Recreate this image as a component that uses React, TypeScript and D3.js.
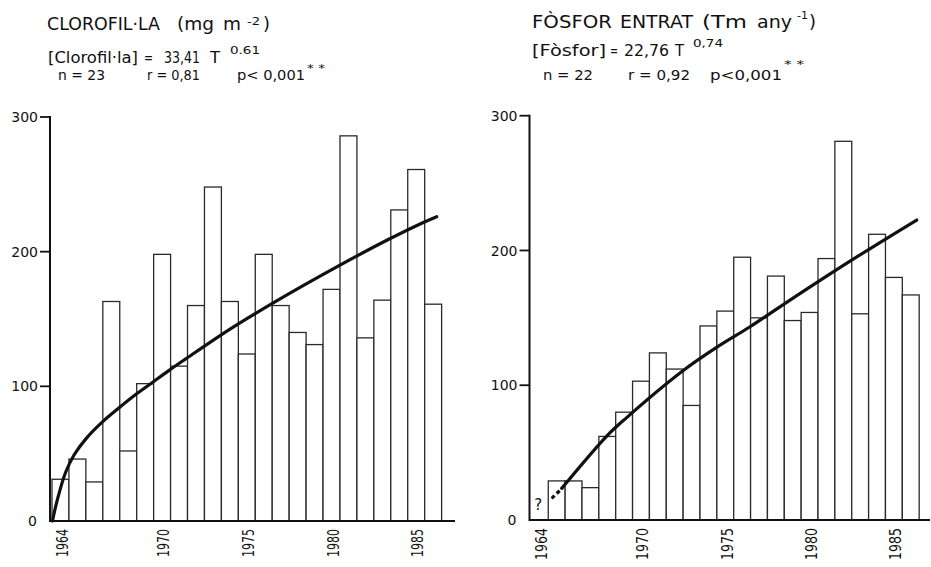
import React from "react";
import * as d3 from "d3";

// ---------- DATA ----------
const clorYears = [1964, 1965, 1966, 1967, 1968, 1969, 1970, 1971, 1972, 1973, 1974, 1975, 1976, 1977, 1978, 1979, 1980, 1981, 1982, 1983, 1984, 1985, 1986];
const clorValues = [31, 46, 29, 163, 52, 102, 198, 115, 160, 248, 163, 124, 198, 160, 140, 131, 172, 286, 136, 164, 231, 261, 161];

const fosYears = [1965, 1966, 1967, 1968, 1969, 1970, 1971, 1972, 1973, 1974, 1975, 1976, 1977, 1978, 1979, 1980, 1981, 1982, 1983, 1984, 1985, 1986];
const fosValues = [29, 29, 24, 62, 80, 103, 124, 112, 85, 144, 155, 195, 150, 181, 148, 154, 194, 281, 153, 212, 180, 167];

// fitted curves (T = years from the start of 1964)
const clorCurveT = [0.03, 0.2, 0.45, 0.8, 1.3, 2.0, 2.93, 3.91, 4.9, 5.89, 6.87, 7.85, 10.51, 13.06, 17.0, 19.85, 21.92, 22.71];
const clorCurveV = [0, 10, 22, 36, 49, 61, 73, 83.5, 93.5, 102.5, 111.5, 120, 142.5, 162, 190, 209, 221.7, 226];

const fosDashT = [1.2, 1.85];
const fosDashV = [16.1, 23.8];
const fosCurveT = [1.8, 4.47, 5.65, 8.91, 11.05, 12.97, 15.34, 18.9, 22.85];
const fosCurveV = [23.5, 62.3, 76, 110, 128.6, 143.4, 163.2, 192.1, 222.6];

const yTicks = [0, 100, 200, 300];
const yearTicks = [1964, 1970, 1975, 1980, 1985];

const FONT = "'DejaVu Sans', Verdana, sans-serif";

type PanelProps = {
  axisX: number;
  axisEnd: number;
  y0: number;
  y300: number;
  slot0: number;
  slotW: number;
  years: number[];
  values: number[];
  curveT: number[];
  curveV: number[];
  dashT?: number[];
  dashV?: number[];
  question?: boolean;
  yearLen: number;
};

function Panel(p: PanelProps) {
  const y = d3.scaleLinear().domain([0, 300]).range([p.y0, p.y300]);
  const x = d3.scaleLinear().domain([1964, 1965]).range([p.slot0, p.slot0 + p.slotW]);
  const line = d3
    .line<[number, number]>()
    .x((d) => x(1964 + d[0]))
    .y((d) => y(d[1]))
    .curve(d3.curveCatmullRom.alpha(0.5));
  const pts: [number, number][] = p.curveT.map((t, i) => [t, p.curveV[i]]);
  const dashPts: [number, number][] | null = p.dashT ? p.dashT.map((t, i) => [t, p.dashV![i]]) : null;

  return (
    <g>
      {p.years.map((yr, i) => (
        <rect
          key={yr}
          x={x(yr)}
          y={y(p.values[i])}
          width={x(yr + 1) - x(yr)}
          height={y(0) - y(p.values[i])}
          fill="#fff"
          stroke="#2a2a2a"
          strokeWidth={1.3}
        />
      ))}
      <line x1={p.axisX} x2={p.axisX} y1={y(300) - 1} y2={y(0) + 1} stroke="#111" strokeWidth={2} />
      <line x1={p.axisX} x2={p.axisEnd} y1={y(0)} y2={y(0)} stroke="#111" strokeWidth={2} />
      {yTicks.map((t) => (
        <g key={t}>
          {t > 0 && (
            <line x1={p.axisX - 10} x2={p.axisX} y1={y(t)} y2={y(t)} stroke="#111" strokeWidth={1.8} />
          )}
          <text
            x={t > 0 ? p.axisX - 12 : p.axisX - 13}
            y={y(t)}
            dy="0.36em"
            textAnchor="end"
            fontFamily={FONT}
            fontSize={14}
            fill="#111"
          >
            {t}
          </text>
        </g>
      ))}
      {yearTicks.map((yr) => {
        const cx = x(yr + 0.5) + 1.5;
        return (
          <text
            key={yr}
            transform={`translate(${cx},${y(0) + 8}) rotate(-90)`}
            textAnchor="end"
            dy="0.36em"
            fontFamily={FONT}
            fontSize={16}
            textLength={p.yearLen}
            lengthAdjust="spacingAndGlyphs"
            fill="#111"
          >
            {yr}
          </text>
        );
      })}
      <path d={line(pts) || ""} fill="none" stroke="#111" strokeWidth={3.2} strokeLinecap="round" />
      {dashPts && (
        <path d={line(dashPts) || ""} fill="none" stroke="#111" strokeWidth={3.2} strokeDasharray="4 3" />
      )}
      {p.question && (
        <text x={x(1964.4)} y={y(0) - 10} textAnchor="middle" fontFamily={FONT} fontSize={15} fill="#111">
          ?
        </text>
      )}
    </g>
  );
}

type Chunk = { s: string; x: number; y: number; w: number; f: number };

const leftText: Chunk[] = [
  { s: "CLOROFIL·LA", x: 47, y: 30, w: 113, f: 18 },
  { s: "(mg", x: 177, y: 30, w: 37, f: 18 },
  { s: "m", x: 223, y: 30, w: 18, f: 18 },
  { s: "-2", x: 247, y: 25, w: 13, f: 11 },
  { s: ")", x: 263, y: 30, w: 7, f: 18 },
  { s: "[Clorofil·la]", x: 48, y: 63, w: 90, f: 16 },
  { s: "=", x: 144, y: 63, w: 9, f: 16 },
  { s: "33,41", x: 164, y: 63, w: 36, f: 16 },
  { s: "T", x: 210, y: 63, w: 10, f: 16 },
  { s: "0.61", x: 230, y: 54, w: 30, f: 10 },
  { s: "n = 23", x: 58, y: 80, w: 47, f: 14 },
  { s: "r = 0,81", x: 147, y: 80, w: 53, f: 14 },
  { s: "p< 0,001", x: 237, y: 80, w: 68, f: 14 },
  { s: "* *", x: 307, y: 72, w: 18, f: 11 },
];

const rightText: Chunk[] = [
  { s: "FÒSFOR", x: 532, y: 28, w: 80, f: 18 },
  { s: "ENTRAT", x: 620, y: 28, w: 73, f: 18 },
  { s: "(Tm", x: 702, y: 28, w: 45, f: 18 },
  { s: "any", x: 757, y: 28, w: 35, f: 18 },
  { s: "-1", x: 797, y: 19, w: 11, f: 11 },
  { s: ")", x: 809, y: 28, w: 7, f: 18 },
  { s: "[Fòsfor]", x: 532, y: 56, w: 74, f: 16 },
  { s: "=", x: 610, y: 56, w: 8, f: 16 },
  { s: "22,76", x: 624, y: 56, w: 45, f: 16 },
  { s: "T", x: 675, y: 56, w: 9, f: 16 },
  { s: "0,74", x: 693, y: 47, w: 30, f: 10 },
  { s: "n = 22", x: 543, y: 80, w: 50, f: 14.5 },
  { s: "r = 0,92", x: 628, y: 80, w: 62, f: 14.5 },
  { s: "p<0,001", x: 710, y: 80, w: 72, f: 14.5 },
  { s: "* *", x: 784, y: 68, w: 20, f: 11 },
];

export default function App() {
  const renderChunk = (c: Chunk, i: number) => (
    <text
      key={i}
      x={c.x}
      y={c.y}
      fontSize={c.f}
      fontFamily={FONT}
      fill="#111"
      textLength={c.w}
      lengthAdjust="spacingAndGlyphs"
    >
      {c.s}
    </text>
  );
  return (
    <svg width={931} height={567} style={{ position: "absolute", left: 0, top: 0, background: "#fff" }}>
      <rect width={931} height={567} fill="#fff" />
      {leftText.map(renderChunk)}
      {rightText.map((c, i) => renderChunk(c, i + 100))}

      <Panel
        axisX={50}
        axisEnd={455}
        y0={521}
        y300={117}
        slot0={52}
        slotW={16.94}
        years={clorYears}
        values={clorValues}
        curveT={clorCurveT}
        curveV={clorCurveV}
        yearLen={28}
      />
      <Panel
        axisX={529.5}
        axisEnd={930}
        y0={520}
        y300={115.7}
        slot0={531.4}
        slotW={16.86}
        years={fosYears}
        values={fosValues}
        curveT={fosCurveT}
        curveV={fosCurveV}
        dashT={fosDashT}
        dashV={fosDashV}
        question
        yearLen={32}
      />
    </svg>
  );
}
